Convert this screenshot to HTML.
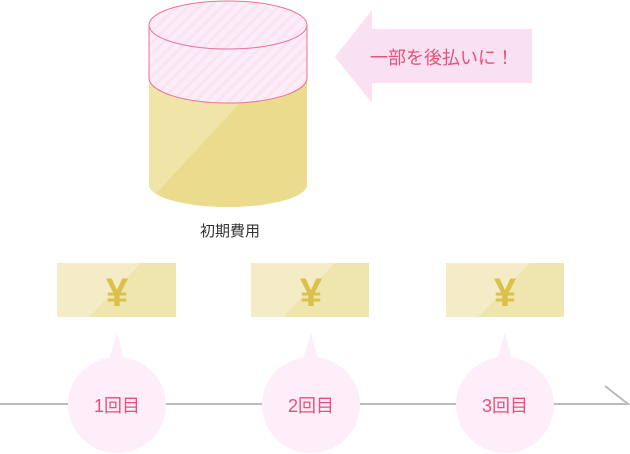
<!DOCTYPE html>
<html><head><meta charset="utf-8"><style>
html,body{margin:0;padding:0;background:#fff;}
svg{display:block;}
text{font-family:"Liberation Sans","Noto Sans CJK JP",sans-serif;}
</style></head><body>
<svg width="630" height="454" viewBox="0 0 630 454" xmlns="http://www.w3.org/2000/svg">
<defs>
<pattern id="st" width="8" height="8" patternUnits="userSpaceOnUse" patternTransform="rotate(-45)">
<rect width="8" height="8" fill="#fcedf7"/><rect width="8" height="3" fill="#f9e5f2"/>
</pattern>
<clipPath id="cy"><path d="M149,78 A79,25 0 0 0 307,78 L307,185 A79,22 0 0 1 149,185 Z"/></clipPath>
</defs>
<path d="M149,78 A79,25 0 0 0 307,78 L307,185 A79,22 0 0 1 149,185 Z" fill="#ebdb8d"/>
<g clip-path="url(#cy)"><path d="M140,70 L250,70 L240,103 L150,200 L140,200 Z" fill="#f0e4a6"/></g>
<path d="M149,25 L149,78 A79,25 0 0 0 307,78 L307,25 Z" fill="url(#st)" stroke="#f07098" stroke-width="1"/>
<ellipse cx="228" cy="25" rx="79" ry="24" fill="url(#st)" stroke="#f07098" stroke-width="1"/>
<text x="230" y="236" font-size="15" fill="#333" text-anchor="middle">初期費用</text>
<path d="M335,57 L372,10 L372,29 L532,29 L532,83 L372,83 L372,103 Z" fill="#f9e1f1"/>
<text x="442" y="64" font-size="18" fill="#e8507a" text-anchor="middle">一部を後払いに！</text>
<g>
<rect x="57" y="263" width="119" height="54" fill="#efe5ae"/>
<path d="M57,263 L141,263 L89,317 L57,317 Z" fill="#f3ecc6"/>
<text x="117" y="306" font-size="40" font-weight="bold" fill="#dcc04a" text-anchor="middle">¥</text>
<rect x="251" y="263" width="118" height="54" fill="#efe5ae"/>
<path d="M251,263 L335,263 L283,317 L251,317 Z" fill="#f3ecc6"/>
<text x="311" y="306" font-size="40" font-weight="bold" fill="#dcc04a" text-anchor="middle">¥</text>
<rect x="446" y="263" width="118" height="54" fill="#efe5ae"/>
<path d="M446,263 L530,263 L478,317 L446,317 Z" fill="#f3ecc6"/>
<text x="505" y="306" font-size="40" font-weight="bold" fill="#dcc04a" text-anchor="middle">¥</text>
</g>
<path d="M0,404 L628,404 L605,386" fill="none" stroke="#bbb" stroke-width="2"/>
<g fill="#fdeefa">
<ellipse cx="117" cy="405" rx="49" ry="48"/><path d="M117,333 L109,359 L124,359 Z"/>
<ellipse cx="311" cy="405" rx="49" ry="48"/><path d="M311,333 L303,359 L318,359 Z"/>
<ellipse cx="505" cy="405" rx="49" ry="48"/><path d="M505,333 L497,359 L512,359 Z"/>
</g>
<g font-size="18" fill="#e8507a" text-anchor="middle">
<text x="117" y="412">1回目</text>
<text x="311" y="412">2回目</text>
<text x="505" y="412">3回目</text>
</g>
</svg>
</body></html>
